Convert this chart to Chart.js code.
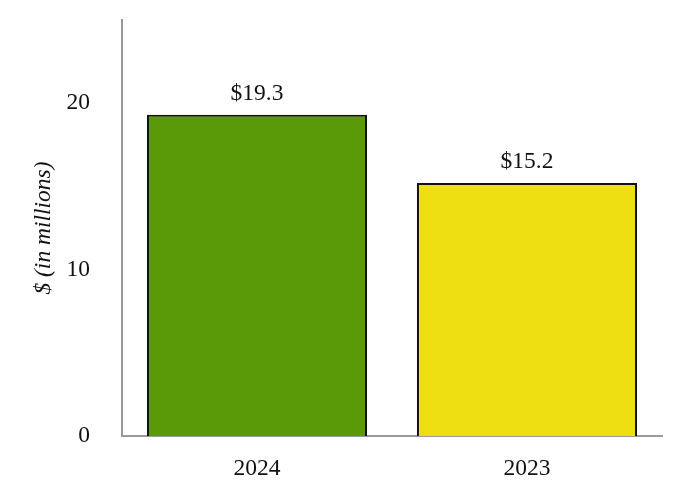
<!DOCTYPE html>
<html>
<head>
<meta charset="utf-8">
<script src="https://cdn.jsdelivr.net/npm/chart.js@4.4.1/dist/chart.umd.min.js"></script>
<style>
  html, body { margin: 0; padding: 0; background: #fff; }
  #wrap { width: 682px; height: 500px; position: relative; }
</style>
</head>
<body>
<div id="wrap"><canvas id="c"></canvas></div>
<script>
// ---- Data ----
const years = ["2024", "2023"];
const amounts = [19.3, 15.2];
const valueLabels = ["$19.3", "$15.2"];
const barColors = ["#5a9a08", "#eedf12"];

const FONT = "'Liberation Serif', 'Times New Roman', serif";
const FS = 23.5;

// value labels above each bar
const barLabels = {
  id: "barLabels",
  afterDatasetsDraw(chart) {
    const { ctx } = chart;
    const meta = chart.getDatasetMeta(0);
    ctx.save();
    ctx.font = `${FS}px ${FONT}`;
    ctx.fillStyle = "#111";
    ctx.textAlign = "center";
    ctx.textBaseline = "middle";
    meta.data.forEach((bar, i) => ctx.fillText(valueLabels[i], bar.x, bar.y - 21));
    ctx.restore();
  },
};

new Chart(document.getElementById("c"), {
  type: "bar",
  data: {
    labels: years,
    datasets: [{
      data: amounts,
      backgroundColor: barColors,
      borderColor: "#111",
      borderWidth: 2,
      categoryPercentage: 1,
      barPercentage: 0.815,
    }],
  },
  options: {
    responsive: true, maintainAspectRatio: false, animation: false,
    layout: { padding: { top: 20, right: 20, left: 0, bottom: 0 } },
    plugins: { legend: { display: false }, tooltip: { enabled: false } },
    scales: {
      x: {
        grid: { display: false, drawTicks: false },
        border: { display: true, color: "#9a9a9a", width: 2 },
        ticks: { color: "#111", font: { family: FONT, size: FS }, padding: 19 },
        afterFit: (s) => { s.height = 64; },
      },
      y: {
        min: 0, max: 25,
        grid: { display: false, drawTicks: false },
        border: { display: true, color: "#9a9a9a", width: 2 },
        ticks: {
          stepSize: 10, color: "#111", font: { family: FONT, size: FS }, padding: 32,
          callback: (v) => (v % 10 === 0 ? v : ""),
        },
        title: {
          display: true, text: "$ (in millions)", color: "#111",
          font: { family: FONT, size: FS, style: "italic" },
          padding: { top: 30, bottom: 0 },
        },
        afterFit: (s) => { s.width = 122; s.paddingTop = 0; },
      },
    },
  },
  plugins: [barLabels],
});
</script>
</body>
</html>
